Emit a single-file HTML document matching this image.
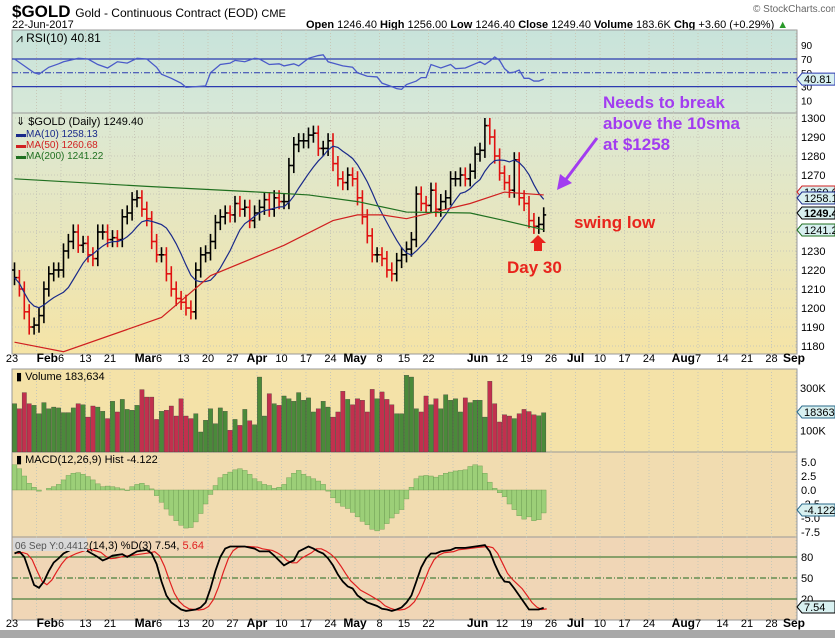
<!DOCTYPE html>
<html><head><meta charset="utf-8"><style>
body{margin:0;background:#fff;font-family:"Liberation Sans",sans-serif}
svg text{font-family:"Liberation Sans",sans-serif}
</style></head><body>
<svg id="c" width="835" height="638" viewBox="0 0 835 638" xmlns="http://www.w3.org/2000/svg">
<defs>
<linearGradient id="gP" x1="0" y1="0" x2="0" y2="1"><stop offset="0" stop-color="#dbe8d4"/><stop offset="1" stop-color="#f5e4a6"/></linearGradient>
<linearGradient id="gR" x1="0" y1="0" x2="0" y2="1"><stop offset="0" stop-color="#c8e3da"/><stop offset="1" stop-color="#d7e8d8"/></linearGradient>
</defs>
<rect x="0" y="0" width="835" height="638" fill="#fff"/>
<g>
<text x="12" y="17" font-size="17" font-weight="bold">$GOLD <tspan font-size="12" font-weight="normal">Gold - Continuous Contract (EOD) <tspan font-size="11">CME</tspan></tspan></text>
<text x="12" y="28" font-size="11">22-Jun-2017</text>
<text x="306" y="28" font-size="11"><tspan font-weight="bold">Open</tspan> 1246.40 <tspan font-weight="bold">High</tspan> 1256.00 <tspan font-weight="bold">Low</tspan> 1246.40 <tspan font-weight="bold">Close</tspan> 1249.40 <tspan font-weight="bold">Volume</tspan> 183.6K <tspan font-weight="bold">Chg</tspan> +3.60 (+0.29%) <tspan fill="#2a9a2a">▲</tspan></text>
<text x="753" y="12" font-size="10" fill="#666">© StockCharts.com</text>
</g>
<rect x="12" y="30" width="785" height="83" fill="url(#gR)" stroke="#999"/>
<rect x="12" y="113" width="785" height="241" fill="url(#gP)" stroke="#999"/>
<rect x="12" y="369" width="785" height="83" fill="#f4e2a8" stroke="#999"/>
<rect x="12" y="452" width="785" height="85" fill="#f1dcb0" stroke="#999"/>
<rect x="12" y="537" width="785" height="83" fill="#f0d6b6" stroke="#999"/>
<rect x="0" y="630" width="835" height="8" fill="#a8a8a8"/>
<g id="grid"></g><g id="marks"></g><g id="labels"></g>
<g>
<text x="603" y="108" font-size="17" font-weight="bold" fill="#a23cf0">Needs to break</text>
<text x="603" y="129" font-size="17" font-weight="bold" fill="#a23cf0">above the 10sma</text>
<text x="603" y="150" font-size="17" font-weight="bold" fill="#a23cf0">at $1258</text>
<line x1="597" y1="138" x2="564" y2="182" stroke="#a23cf0" stroke-width="3"/>
<polygon points="557,190 560,174 572,183" fill="#a23cf0"/>
<text x="574" y="228" font-size="17" font-weight="bold" fill="#e8241c">swing low</text>
<polygon points="538,235 546,243 542,243 542,251 534,251 534,243 530,243" fill="#e8241c"/>
<text x="507" y="273" font-size="17" font-weight="bold" fill="#e8241c">Day 30</text>
</g>
</svg>
<script>
const closes=[1216,1210,1198,1190,1191,1196,1210,1218,1220,1220,1230,1235,1240,1233,1234,1228,1226,1240,1240,1236,1237,1236,1248,1250,1257,1258,1252,1247,1235,1228,1228,1218,1210,1205,1203,1200,1198,1220,1228,1229,1235,1245,1248,1250,1249,1255,1252,1253,1246,1250,1253,1257,1252,1258,1256,1256,1275,1286,1288,1288,1291,1292,1284,1284,1288,1276,1268,1266,1270,1268,1258,1248,1238,1228,1228,1226,1220,1218,1225,1228,1231,1236,1260,1255,1254,1262,1252,1256,1258,1268,1268,1270,1268,1272,1281,1283,1296,1290,1280,1271,1266,1262,1278,1258,1255,1246,1243,1244,1249];
const volumes=[227,203,279,227,219,180,232,203,211,207,185,185,207,227,222,164,216,211,191,157,238,188,247,200,196,219,293,258,258,153,191,196,216,169,250,169,157,180,94,149,203,133,207,191,102,153,125,200,147,128,352,169,274,227,219,263,250,238,279,243,254,188,203,238,211,164,188,285,247,222,250,243,188,294,250,282,247,222,180,180,360,352,203,188,263,222,250,203,269,243,250,188,254,232,243,243,164,332,227,141,175,169,157,180,200,190,175,170,184];
const macdHist=[4.5,3.8,2.5,1.2,0.5,-0.2,0.0,0.3,0.6,1.0,1.8,2.6,3.0,3.1,2.8,2.4,1.8,1.1,0.6,0.7,0.6,0.4,0.2,-0.1,0.6,1.0,1.2,0.8,0.2,-1.0,-2.2,-3.4,-4.5,-5.5,-6.3,-6.8,-6.7,-5.7,-4.2,-2.5,-0.8,0.8,2.2,2.8,3.2,3.6,3.8,3.5,2.8,2.0,1.5,1.0,0.8,0.3,0.5,1.0,2.2,3.0,3.5,2.8,2.4,2.0,1.6,1.0,-0.2,-1.4,-2.3,-2.9,-3.3,-4.0,-4.8,-5.6,-6.2,-7.0,-7.3,-7.0,-6.0,-5.0,-4.2,-3.5,-1.6,0.5,2.0,2.5,2.6,2.5,2.3,2.6,3.0,3.2,3.4,3.5,3.6,4.2,4.5,4.3,3.0,1.4,0.3,-0.5,-1.2,-2.5,-3.5,-4.6,-5.2,-4.8,-5.5,-5.3,-4.1];
const ma50Dates=["2017-01-23","2017-02-06","2017-03-06","2017-03-20","2017-04-10","2017-04-24","2017-05-01","2017-05-08","2017-05-15","2017-06-01","2017-06-12","2017-06-22"];
const ma50Values=[1182,1177,1195,1217,1233,1246,1249,1249,1247,1255,1261,1259.5];
const ma200Dates=["2017-01-23","2017-03-01","2017-04-03","2017-04-17","2017-05-01","2017-05-15","2017-06-01","2017-06-12","2017-06-22"];
const ma200Values=[1268,1264,1261,1259.5,1256,1250.5,1250,1246,1241.2];
const rsiDates=["01-23","01-25","01-27","01-30","02-01","02-03","02-06","02-09","02-13","02-15","02-17","02-21","02-23","02-27","03-01","03-03","03-06","03-08","03-10","03-13","03-15","03-17","03-20","03-22","03-24","03-27","03-29","03-31","04-03","04-05","04-07","04-10","04-12","04-13","04-17","04-19","04-20","04-21","04-24","04-26","04-28","05-01","05-03","05-05","05-08","05-10","05-11","05-12","05-15","05-17","05-18","05-19","05-22","05-24","05-26","05-29","05-31","06-02","06-05","06-06","06-07","06-08","06-09","06-12","06-13","06-14","06-15","06-16","06-19","06-20","06-21","06-22"];
const rsiValues=[70,60,50,48,58,63,66,71,70,62,57,66,64,71,70,58,48,42,35,29,30,31,50,62,64,68,66,71,70,62,63,60,63,60,71,75,76,66,64,60,58,50,45,44,35,30,27,26,33,38,43,43,62,57,62,56,57,63,66,62,67,73,68,56,50,51,54,42,42,38,38,40.81];
const stochDates=["01-23","01-24","01-25","01-26","01-27","01-30","01-31","02-01","02-02","02-03","02-06","02-08","02-10","02-13","02-15","02-16","02-17","02-20","02-22","02-23","02-27","03-01","03-02","03-03","03-06","03-07","03-08","03-09","03-10","03-13","03-15","03-16","03-17","03-20","03-21","03-22","03-23","03-24","03-27","03-29","03-31","04-03","04-05","04-06","04-07","04-10","04-11","04-12","04-13","04-17","04-18","04-19","04-20","04-21","04-24","04-25","04-26","04-27","04-28","05-01","05-03","05-05","05-08","05-09","05-10","05-11","05-12","05-15","05-16","05-17","05-18","05-19","05-22","05-23","05-24","05-26","05-29","05-31","06-02","06-06","06-07","06-08","06-09","06-12","06-13","06-14","06-15","06-16","06-19","06-20","06-21","06-22"];
const stochValues=[85,88,80,60,40,36,45,60,72,78,85,92,92,88,80,75,78,82,84,80,88,90,85,70,45,25,15,10,5,3,5,8,15,35,60,80,92,95,95,95,92,88,88,82,75,68,72,75,88,95,92,88,85,78,68,55,45,38,35,25,15,10,6,5,3,5,8,15,25,45,65,78,85,85,88,90,93,93,95,97,88,70,55,45,44,35,25,15,5,5,5,7.54];
const priceTicks=[1180,1190,1200,1210,1220,1230,1240,1250,1260,1270,1280,1290,1300];
const rsiTicks=[10,30,50,70,90];
const volTicks=[100,300];
const macdTicks=[-7.5,-5,-2.5,0,2.5,5];
const stochTicks=[20,50,80];
// [date, label, type]: n = week number, e = month ending before date, m = month centered, s = month starting left of date
const dateTicks=[["01-23","23","n"],["02-06","Feb","e"],["02-06","6","n"],["02-13","13","n"],["02-20","21","n"],["03-06","Mar","e"],["03-06","6","n"],["03-13","13","n"],["03-20","20","n"],["03-27","27","n"],["04-03","Apr","m"],["04-10","10","n"],["04-17","17","n"],["04-24","24","n"],["05-01","May","m"],["05-08","8","n"],["05-15","15","n"],["05-22","22","n"],["06-05","Jun","m"],["06-12","12","n"],["06-19","19","n"],["06-26","26","n"],["07-03","Jul","m"],["07-10","10","n"],["07-17","17","n"],["07-24","24","n"],["08-07","Aug","e"],["08-07","7","n"],["08-14","14","n"],["08-21","21","n"],["08-28","28","n"],["09-04","Sep","s"]];

const NS="http://www.w3.org/2000/svg";
const T0=Date.UTC(2017,0,23);
function xDate(s){if(s.length===5)s="2017-"+s;const p=s.split("-");const d=(Date.UTC(+p[0],+p[1]-1,+p[2])-T0)/86400000;const w=Math.floor(d/7),dw=d%7;return 12+w*24.5+Math.min(dw,4)*4.9+2.5;}
function xBar(i){const w=Math.floor(i/5),dw=i%5;return 12+w*24.5+dw*4.9+2.5;}
const yP=p=>118+(1300-p)*1.9, yR=v=>59+(70-v)*0.69, yV=v=>452-v*0.213, yM=v=>490-v*5.6, yS=v=>557+(80-v)*0.7;
function el(tag,attrs,parent,txt){const e=document.createElementNS(NS,tag);for(const k in attrs)e.setAttribute(k,attrs[k]);if(txt!==undefined)e.textContent=txt;parent.appendChild(e);return e;}
const G=document.getElementById("grid"),M=document.getElementById("marks"),L=document.getElementById("labels");
for(let k=0;k<33;k++){const x=12+k*24.5;if(x>12&&x<797){[[30,113],[113,354],[369,452],[452,537],[537,620]].forEach(r=>{const g=el("line",{x1:x,x2:x,y1:r[0],y2:r[1],stroke:"#c8c8b8","stroke-dasharray":"1,2"},G);});}}
priceTicks.forEach(t=>{const g=el("line",{x1:12,x2:797,y1:yP(t),y2:yP(t),stroke:"#c8c8b8","stroke-dasharray":"1,2"},G);
const l=el("text",{x:801,y:yP(t)+4,"font-size":11},L,String(t));});
rsiTicks.forEach(t=>{const l=el("text",{x:801,y:yR(t)+4,"font-size":10},L,String(t));});
[70,30].forEach(t=>{const g=el("line",{x1:12,x2:797,y1:yR(t),y2:yR(t),stroke:"#2b3ab0","stroke-width":1.2},G);});
{const g=el("line",{x1:12,x2:797,y1:yR(50),y2:yR(50),stroke:"#2b3ab0","stroke-dasharray":"6,2,1,2"},G);}
volTicks.forEach(t=>{const l=el("text",{x:800,y:yV(t)+4,"font-size":11},L,t+"K");});
macdTicks.forEach(t=>{const l=el("text",{x:801,y:yM(t)+4,"font-size":11},L,t.toFixed(1));});
stochTicks.forEach(t=>{const g=el("line",{x1:12,x2:797,y1:yS(t),y2:yS(t),stroke:"#1f6b1f","stroke-dasharray":t===50?"6,2,1,2":"none"},G);
const l=el("text",{x:801,y:yS(t)+4,"font-size":11},L,String(t));});
dateTicks.forEach(d=>{const x=xDate(d[0])-2.5;const isM=d[2]!=="n";const xx=d[2]==="e"?x-3:(d[2]==="s"?x-13:x);const anchor=d[2]==="e"?"end":(d[2]==="s"?"start":"middle");
[362,627].forEach(y=>{const l=el("text",{x:xx,y:y,"font-size":isM?12:11,"font-weight":isM?"bold":"normal","text-anchor":anchor},L,d[1]);});});
const N=closes.length;
for(let i=0;i<N;i++){const c=closes[i],o=i?closes[i-1]:c+4,h=Math.max(o,c)+4,lo=Math.min(o,c)-4;const x=xBar(i);const col=(i&&c<closes[i-1])?"#e01010":"#000";
const g=el("g",{stroke:col,"stroke-width":1.6},M);
el("line",{x1:x,x2:x,y1:yP(h),y2:yP(lo)},g);el("line",{x1:x-2.5,x2:x,y1:yP(o),y2:yP(o)},g);el("line",{x1:x,x2:x+2.5,y1:yP(c),y2:yP(c)},g);
const v=volumes[i]||150;const vb=el("rect",{x:x-2.2,y:yV(v),width:4.4,height:v*0.213,fill:col==="#000"?"#4a8a3a":"#c2304e",stroke:"#333","stroke-width":0.3},M);
const m=macdHist[i]||0;const mb=el("rect",{x:x-2.4,y:Math.min(yM(m),yM(0)),width:4.8,height:Math.abs(m*5.6),fill:"#9ccf78",stroke:"#6a9a50","stroke-width":0.4},M);}
let pts=[];for(let i=0;i<N;i++){const s=closes.slice(Math.max(0,i-9),i+1);pts.push(xBar(i)+","+yP(s.reduce((a,b)=>a+b,0)/s.length));}
function pl(p,c,w,name){const e=el("polyline",{points:p.join(" "),fill:"none",stroke:c,"stroke-width":w},M);}
pl(pts,"#1a2a8a",1.2,"ma10-line");
pl(ma50Dates.map((d,i)=>xDate(d)+","+yP(ma50Values[i])),"#d02020",1.2,"ma50-line");
pl(ma200Dates.map((d,i)=>xDate(d)+","+yP(ma200Values[i])),"#207020",1.2,"ma200-line");
pl(rsiDates.map((d,i)=>xDate(d)+","+yR(rsiValues[i])),"#4a5ac8",1.3,"rsi-line");
const sd=stochValues.map((v,i)=>{const a=stochValues.slice(Math.max(0,i-2),i+1);return a.reduce((p,q)=>p+q,0)/a.length;});
pl(stochDates.map((d,i)=>(xDate(d)+3)+","+yS(sd[i])),"#e02020",1.2,"stoch-d-line");
pl(stochDates.map((d,i)=>xDate(d)+","+yS(stochValues[i])),"#000",1.8,"stoch-k-line");
function txt(x,y,s,name,attrs){const e=el("text",Object.assign({x:x,y:y,"font-size":11},attrs||{}),L,s);return e;}
txt(16,42,"⩘ RSI(10) 40.81","rsi-title",{"font-size":12});
txt(16,125,"⇓ $GOLD (Daily) 1249.40","price-title",{"font-size":11});
txt(16,137,"▬MA(10) 1258.13","legend-ma10",{fill:"#1a2a8a","font-size":10});
txt(16,148,"▬MA(50) 1260.68","legend-ma50",{fill:"#d02020","font-size":10});
txt(16,159,"▬MA(200) 1241.22","legend-ma200",{fill:"#207020","font-size":10});
txt(16,380,"▮ Volume 183,634","volume-title",{"font-size":11});
txt(16,463,"▮ MACD(12,26,9) Hist -4.122","macd-title",{"font-size":11});
{const r=el("rect",{x:13,y:538,width:74,height:13,fill:"#d8d8d8"},L);}
txt(15,549,"06 Sep Y:0.4412","stoch-tooltip",{"font-size":10,fill:"#555"});
{const st=txt(89,549,"(14,3) %D(3) 7.54, ","stoch-title",{"font-size":11});el("tspan",{fill:"#e02020"},st,"5.64");}
function tag(y,s,c,name,bold){const g=el("g",{},L);
el("polygon",{points:`797,${y} 802,${y-6} 835,${y-6} 835,${y+6} 802,${y+6}`,fill:"#d8f0f0",stroke:c},g);el("text",{x:804,y:y+4,"font-size":11,"font-weight":bold?"bold":"normal"},g,s);}
tag(192,"1260.6","#d02020","tag-ma50");tag(198,"1258.1","#1a2a8a","tag-ma10");tag(213,"1249.4","#000","tag-price",true);tag(230,"1241.2","#207020","tag-ma200");
tag(yR(40.81),"40.81","#2b3ab0","tag-rsi");tag(412,"183634","#2a6a8a","tag-volume");tag(510,"-4.122","#2a6a8a","tag-macd");tag(607,"7.54","#000","tag-stoch");
</script>
</body></html>
